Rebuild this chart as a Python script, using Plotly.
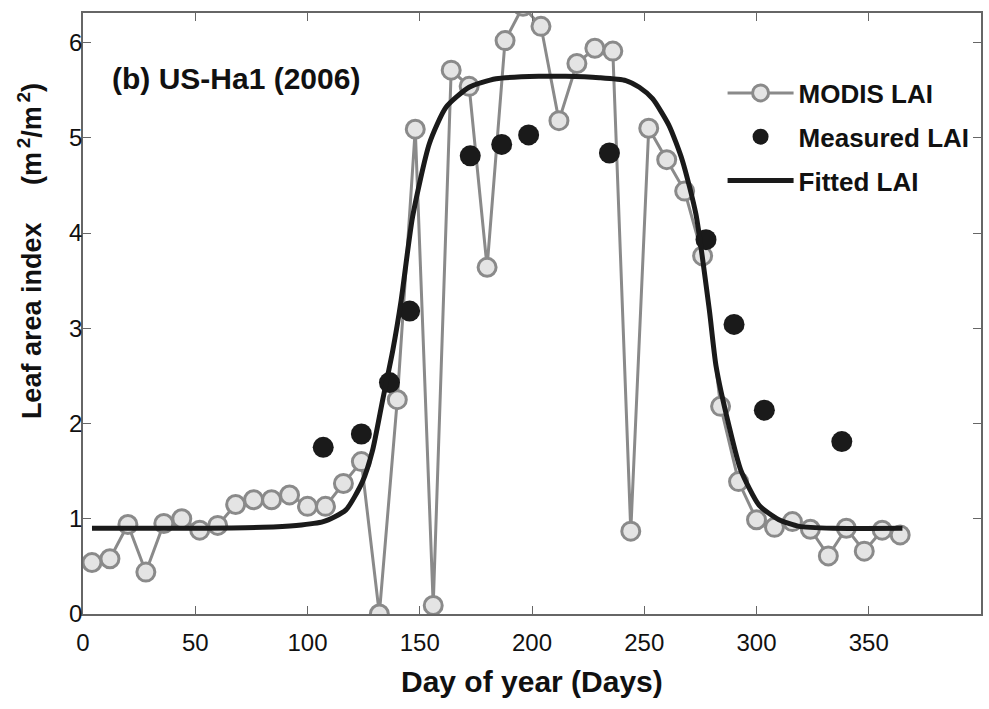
import plotly.graph_objects as go

# MODIS LAI (8-day composites)
modis_day = [4, 12, 20, 28, 36, 44, 52, 60, 68, 76, 84, 92, 100, 108, 116, 124,
             132, 140, 148, 156, 164, 172, 180, 188, 196, 204, 212, 220, 228, 236,
             244, 252, 260, 268, 276, 284, 292, 300, 308, 316, 324, 332, 340, 348,
             356, 364]
modis_lai = [0.54, 0.58, 0.94, 0.44, 0.95, 1.00, 0.88, 0.93, 1.15, 1.20, 1.20, 1.25,
             1.13, 1.13, 1.37, 1.60, 0.00, 2.25, 5.09, 0.09, 5.71, 5.54, 3.64, 6.02,
             6.38, 6.17, 5.18, 5.78, 5.94, 5.91, 0.87, 5.10, 4.77, 4.44, 3.76, 2.18,
             1.39, 0.99, 0.91, 0.97, 0.89, 0.61, 0.90, 0.66, 0.88, 0.83]

# Measured LAI
meas_day = [107, 124, 136.5, 145.5, 172.5, 186.5, 198.5, 234.5, 277.5, 290, 303.5, 338]
meas_lai = [1.75, 1.89, 2.43, 3.18, 4.81, 4.93, 5.03, 4.84, 3.93, 3.04, 2.14, 1.81]

# Fitted LAI
fit_day = [4, 50, 80, 95, 107, 117, 124.5, 129, 133.5, 138, 141.7, 146.8, 154.3,
           161.7, 172, 184, 203, 215, 230, 241.8, 247.8, 253.7, 261, 267, 273, 279,
           282, 287.8, 293, 301.2, 310, 319, 334, 365]
fit_lai = [0.90, 0.90, 0.91, 0.93, 0.97, 1.09, 1.39, 1.72, 2.25, 2.77, 3.29, 4.17,
           4.94, 5.32, 5.53, 5.62, 5.645, 5.645, 5.63, 5.60, 5.53, 5.41, 5.13, 4.76,
           4.20, 3.19, 2.60, 1.97, 1.51, 1.14, 0.99, 0.92, 0.90, 0.90]

x_ticks = [0, 50, 100, 150, 200, 250, 300, 350]
y_ticks = [0, 1, 2, 3, 4, 5, 6]

FONT = "Liberation Sans, Arial, sans-serif"
AXIS_COLOR = "#666666"
TXT = "#111111"

fig = go.Figure()
fig.add_trace(go.Scatter(
    x=modis_day, y=modis_lai, mode="lines+markers", name="<b>MODIS LAI</b>",
    legendgroup="a",
    line=dict(color="#8a8a8a", width=3),
    marker=dict(size=18, color="#e4e4e4", line=dict(color="#8a8a8a", width=3)),
))
fig.add_trace(go.Scatter(
    x=meas_day, y=meas_lai, mode="markers", name="<b>Measured LAI</b>",
    legendgroup="b",
    marker=dict(size=21, color="#1a1a1a"),
))
fig.add_trace(go.Scatter(
    x=fit_day, y=fit_lai, mode="lines", name="<b>Fitted LAI</b>",
    legendgroup="c",
    line=dict(color="#1a1a1a", width=5, shape="spline", smoothing=0.6),
))

fig.add_annotation(
    x=(110 - 83) / 900, y=(614 - 78) / 601, xref="paper", yref="paper",
    xanchor="left", yanchor="middle",
    text="<b>(b) US-Ha1 (2006)</b>", showarrow=False,
    font=dict(family=FONT, size=30, color=TXT),
)
# x-axis title
fig.add_annotation(
    x=(533 - 83) / 900, y=(614 - 682) / 601, xref="paper", yref="paper",
    xanchor="center", yanchor="middle",
    text="<b>Day of year (Days)</b>", showarrow=False,
    font=dict(family=FONT, size=30, color=TXT),
)
# y-axis title
fig.add_annotation(
    x=(30 - 83) / 900, y=(614 - 251) / 601, xref="paper", yref="paper",
    xanchor="center", yanchor="middle", textangle=-90,
    text="<b>Leaf area index\u00a0\u00a0\u00a0\u00a0\u00a0(m<sup>\u20092</sup>/m<sup>\u20092</sup>)</b>",
    showarrow=False,
    font=dict(family=FONT, size=27, color=TXT),
)

fig.update_layout(
    width=989, height=709,
    margin=dict(l=83, r=6, t=13, b=95),
    paper_bgcolor="white", plot_bgcolor="white",
    font=dict(family=FONT, size=24, color=TXT),
    showlegend=True,
    legend=dict(
        x=(724 - 83) / 900, y=0.906, xanchor="left", yanchor="top",
        bgcolor="rgba(0,0,0,0)", borderwidth=0,
        font=dict(family=FONT, size=26, color=TXT),
        itemwidth=66, tracegroupgap=7, traceorder="grouped",
    ),
    xaxis=dict(
        range=[0, 400], tickvals=x_ticks, ticks="inside", ticklen=8,
        tickcolor=AXIS_COLOR, showline=True, linecolor=AXIS_COLOR, linewidth=1.5,
        mirror="ticks", showgrid=False, zeroline=False,
        tickfont=dict(size=24), ticklabelstandoff=6,
    ),
    yaxis=dict(
        range=[0, 6.31], tickvals=y_ticks, ticks="inside", ticklen=8,
        tickcolor=AXIS_COLOR, showline=True, linecolor=AXIS_COLOR, linewidth=1.5,
        mirror="ticks", showgrid=False, zeroline=False,
        tickfont=dict(size=24), ticklabelstandoff=-6,
    ),
)

fig.write_html("out.html")
